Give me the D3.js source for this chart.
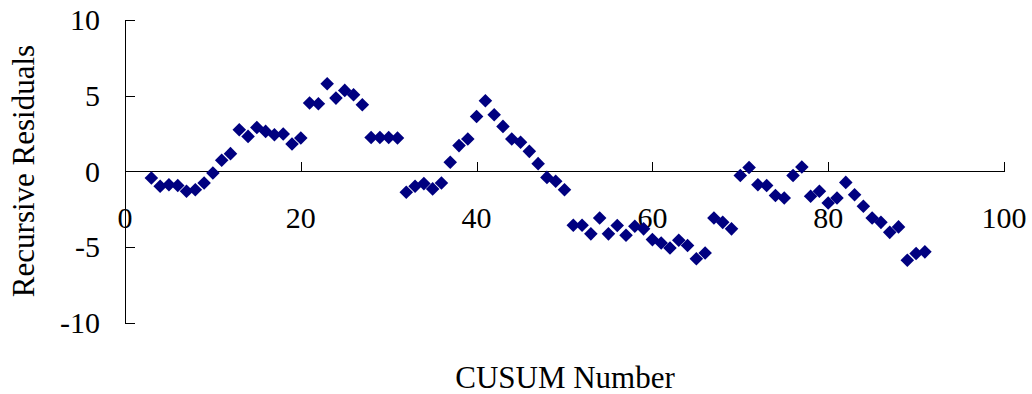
<!DOCTYPE html>
<html>
<head>
<meta charset="utf-8">
<script src="https://cdn.jsdelivr.net/npm/d3@7"></script>
<style>
  html, body { margin: 0; padding: 0; background: #fff; }
  svg { display: block; }
  text { font-family: "Liberation Serif", "Times New Roman", serif; fill: #000; }
</style>
</head>
<body>
<svg id="chart" width="1032" height="394"></svg>
<script>
const cusumNumber = [3,4,5,6,7,8,9,10,11,12,13,14,15,16,17,18,19,20,21,22,23,24,25,26,27,28,29,30,31,32,33,34,35,36,37,38,39,40,41,42,43,44,45,46,47,48,49,50,51,52,53,54,55,56,57,58,59,60,61,62,63,64,65,66,67,68,69,70,71,72,73,74,75,76,77,78,79,80,81,82,83,84,85,86,87,88,89,90,91];
const recursiveResiduals = [-0.44,-0.99,-0.88,-0.94,-1.32,-1.21,-0.77,-0.11,0.73,1.17,2.75,2.31,2.9,2.64,2.42,2.47,1.81,2.2,4.51,4.47,5.79,4.84,5.35,5.06,4.4,2.24,2.24,2.24,2.2,-1.38,-0.99,-0.81,-1.16,-0.77,0.6,1.7,2.14,3.63,4.67,3.74,2.97,2.14,1.92,1.32,0.51,-0.4,-0.66,-1.21,-3.56,-3.56,-4.13,-3.08,-4.13,-3.58,-4.22,-3.63,-3.8,-4.51,-4.73,-5.06,-4.55,-4.9,-5.78,-5.39,-3.08,-3.37,-3.8,-0.28,0.26,-0.88,-0.94,-1.6,-1.76,-0.28,0.29,-1.65,-1.32,-2.09,-1.76,-0.73,-1.54,-2.31,-3.08,-3.37,-4.03,-3.67,-5.87,-5.43,-5.32];
const xTicks = [0,20,40,60,80,100];
const yTicks = [-10,-5,0,5,10];
const xTitle = "CUSUM Number";
const yTitle = "Recursive Residuals";

const svg = d3.select("#chart");
const x = d3.scaleLinear().domain([0,100]).range([125,1004]);
const y = d3.scaleLinear().domain([-10,10]).range([322.7,20]);

// Y axis (ticks inside, to the right)
const yAxis = svg.append("g")
  .attr("transform", `translate(${x(0)},0)`)
  .call(d3.axisRight(y).tickValues(yTicks).tickSize(10).tickSizeOuter(0).tickFormat(""));
yAxis.selectAll("path,line").attr("stroke","#000").attr("stroke-width",1).attr("shape-rendering","crispEdges");

// X axis at y = 0 (ticks upward)
const xAxis = svg.append("g")
  .attr("transform", `translate(0,${y(0)})`)
  .call(d3.axisTop(x).tickValues(xTicks).tickSize(9).tickSizeOuter(0).tickFormat(""));
xAxis.selectAll("path,line").attr("stroke","#000").attr("stroke-width",1).attr("shape-rendering","crispEdges");

// Y tick labels
svg.append("g").selectAll("text").data(yTicks).join("text")
  .attr("x", 100).attr("y", d => y(d)).attr("dy","0.34em")
  .attr("text-anchor","end").attr("font-size",30)
  .text(d => d);

// X tick labels
svg.append("g").selectAll("text").data(xTicks).join("text")
  .attr("x", d => x(d)).attr("y", 228)
  .attr("text-anchor","middle").attr("font-size",30)
  .text(d => d);

// Points
const diamond = d3.symbol().type(d3.symbolSquare).size(92);
svg.append("g").selectAll("path").data(cusumNumber.map((n,i)=>[n,recursiveResiduals[i]])).join("path")
  .attr("d", diamond)
  .attr("transform", d => `translate(${x(d[0])},${y(d[1])}) rotate(45)`)
  .attr("fill","#000080");

// Titles
svg.append("text").attr("x",565).attr("y",388).attr("text-anchor","middle").attr("font-size",31).text(xTitle);
svg.append("text").attr("transform","translate(34,171) rotate(-90)").attr("text-anchor","middle").attr("font-size",31).text(yTitle);
</script>
</body>
</html>
